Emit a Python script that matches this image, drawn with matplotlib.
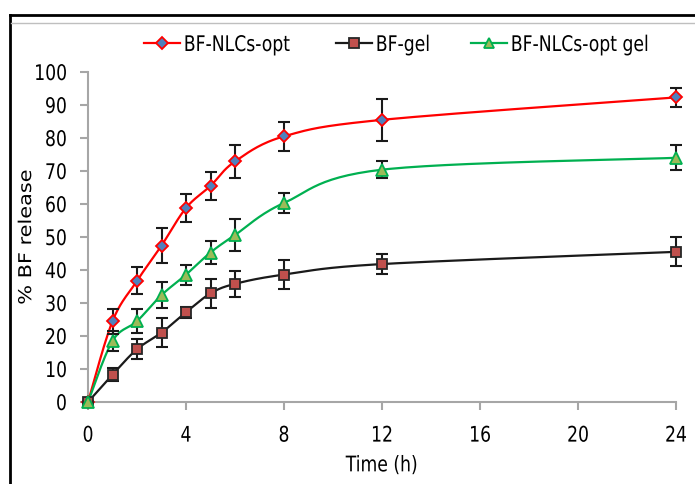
"""
plot.py - cumulative BF release from NLC formulations (Excel-style chart)
"""

import matplotlib
matplotlib.use('Agg')
import matplotlib.pyplot as plt
from matplotlib.lines import Line2D
from matplotlib.patheffects import AbstractPathEffect
from matplotlib.transforms import Affine2D
import numpy as np


# ── Data ─────────────────────────────────────────────────────────────────────
TIME = [0, 1, 2, 3, 4, 5, 6, 8, 12, 24]

NLC_OPT     = [0, 24.5, 36.7, 47.4, 58.8, 65.5, 72.9, 80.5, 85.5, 92.3]
NLC_OPT_ERR = [0, 3.8, 4.1, 5.3, 4.2, 4.2, 5.1, 4.3, 6.3, 3.0]

GEL     = [0, 8.3, 16.0, 21.0, 27.2, 32.9, 35.8, 38.6, 41.8, 45.5]
GEL_ERR = [0, 2.0, 3.0, 4.4, 1.7, 4.5, 4.0, 4.3, 3.0, 4.4]

NLC_GEL     = [0, 18.5, 24.5, 32.4, 38.6, 45.3, 50.6, 60.3, 70.4, 74.0]
NLC_GEL_ERR = [0, 3.0, 3.6, 3.9, 3.0, 3.6, 4.8, 3.1, 2.5, 3.8]

LABELS = ['BF-NLCs-opt', 'BF-gel', 'BF-NLCs-opt gel']

X_TICKS = [0, 4, 8, 12, 16, 20, 24]
Y_TICKS = list(range(0, 101, 10))

# ── Style ────────────────────────────────────────────────────────────────────
FIG_W, FIG_H = 695, 484
AXIS_GREY = '#A6A6A6'
SQUEEZE = 0.8                        # source picture is stretched vertically
LEGEND_X = [144, 336, 471]           # pixel x where each legend entry starts
FS = 15.5

STYLES = [
    dict(color='#FF0000', marker='D', mfc='#4F81BD', mec='#FF0000', ms=6.5),
    dict(color='#1A1A1A', marker='s', mfc='#C0504D', mec='#262626', ms=7),
    dict(color='#00B050', marker='^', mfc='#9BBB59', mec='#00B050', ms=8),
]


class Squeeze(AbstractPathEffect):
    """Draw text narrower in x, keeping the left / centre / right edge put."""

    def __init__(self, factor, anchor='center'):
        super().__init__()
        self.factor = factor
        self.anchor = anchor

    def draw_path(self, renderer, gc, tpath, affine, rgbFace=None):
        ext = tpath.get_extents(affine)
        x0 = {'left': ext.x0, 'center': 0.5 * (ext.x0 + ext.x1), 'right': ext.x1}[self.anchor]
        sq = Affine2D().translate(-x0, 0).scale(self.factor, 1).translate(x0, 0)
        renderer.draw_path(gc, tpath, affine + sq, rgbFace)


def smooth(x, y, sx, sy, n=30):
    """Excel-like smoothed line (Catmull-Rom Bezier) computed in pixel space."""
    px = np.asarray(x, float) * sx
    py = np.asarray(y, float) * sy
    P = np.column_stack([px, py])
    P = np.vstack([P[0], P, P[-1]])
    out = []
    t = np.linspace(0, 1, n)[:, None]
    for i in range(1, len(P) - 2):
        p0, p1, p2, p3 = P[i - 1], P[i], P[i + 1], P[i + 2]
        c1 = p1 + (p2 - p0) / 6
        c2 = p2 - (p3 - p1) / 6
        seg = ((1 - t) ** 3 * p1 + 3 * (1 - t) ** 2 * t * c1
               + 3 * (1 - t) * t ** 2 * c2 + t ** 3 * p2)
        out.append(seg if i == 1 else seg[1:])
    seg = np.vstack(out)
    return seg[:, 0] / sx, seg[:, 1] / sy


def main():
    fig = plt.figure(figsize=(FIG_W / 100, FIG_H / 100), dpi=100)
    ax = fig.add_axes([88 / FIG_W, 1 - 402 / FIG_H, 588 / FIG_W, 330 / FIG_H])

    # pixels per data unit, for the smoothing
    sx = 588 / 24
    sy = 330 / 100

    series = [(NLC_OPT, NLC_OPT_ERR), (GEL, GEL_ERR), (NLC_GEL, NLC_GEL_ERR)]
    handles = []
    for (vals, err), st, lab in zip(series, STYLES, LABELS):
        xs, ys = smooth(TIME, vals, sx, sy)
        ax.plot(xs, ys, color=st['color'], lw=1.6, zorder=2, clip_on=False)
        ax.errorbar(TIME, vals, yerr=err, fmt='none', ecolor='#1A1A1A',
                    elinewidth=1.5, capsize=4, capthick=1.5, zorder=3, clip_on=False)
        ax.plot(TIME, vals, ls='none', marker=st['marker'], mfc=st['mfc'],
                mec=st['mec'], ms=st['ms'], mew=1.3, zorder=4, clip_on=False)
        handles.append(Line2D([], [], color=st['color'], lw=1.6, marker=st['marker'],
                              mfc=st['mfc'], mec=st['mec'], ms=st['ms'] - 0.5, mew=1.3))

    ax.set_xlim(0, 24)
    ax.set_ylim(0, 100)
    ax.set_xticks(X_TICKS)
    ax.set_yticks(Y_TICKS)
    ax.set_xticklabels([str(v) for v in X_TICKS], fontsize=FS)
    ax.set_yticklabels([str(v) for v in Y_TICKS], fontsize=FS)
    for lab in ax.get_xticklabels():
        lab.set_path_effects([Squeeze(SQUEEZE, 'center')])
    for lab in ax.get_yticklabels():
        lab.set_path_effects([Squeeze(SQUEEZE, 'right')])

    for side in ('top', 'right'):
        ax.spines[side].set_visible(False)
    for side in ('left', 'bottom'):
        ax.spines[side].set_color(AXIS_GREY)
        ax.spines[side].set_linewidth(1.5)
    ax.tick_params(axis='both', direction='out', length=6, width=1.5,
                   color=AXIS_GREY, labelcolor='black')
    ax.tick_params(axis='y', pad=9)
    ax.tick_params(axis='x', pad=11)
    ax.set_facecolor('none')

    ylab = ax.set_ylabel('% BF release', fontsize=15)
    ylab.set_path_effects([Squeeze(0.85, 'center')])
    ax.yaxis.set_label_coords(-0.088, 0.5)
    xlab = ax.set_xlabel('Time (h)', fontsize=FS, labelpad=7)
    xlab.set_path_effects([Squeeze(SQUEEZE, 'center')])

    # one legend per entry, so the squeezed labels sit where Excel put them
    for h, lab, px in zip(handles, LABELS, LEGEND_X):
        leg = fig.legend([h], [lab], loc='center left',
                         bbox_to_anchor=(px / FIG_W, 1 - 45 / FIG_H),
                         frameon=False, borderpad=0, borderaxespad=0,
                         handlelength=1.65, handletextpad=0.18, fontsize=FS)
        for txt in leg.get_texts():
            txt.set_path_effects([Squeeze(SQUEEZE, 'left')])

    # outer chart frame (image is cropped from a bigger Excel chart)
    fig.add_artist(Line2D([10 / FIG_W, 10 / FIG_W], [0, 1 - 15 / FIG_H],
                          transform=fig.transFigure, color='black', lw=2))
    fig.add_artist(Line2D([10 / FIG_W, 1], [1 - 15 / FIG_H, 1 - 15 / FIG_H],
                          transform=fig.transFigure, color='black', lw=2))
    fig.add_artist(Line2D([11 / FIG_W, 1], [1 - 23 / FIG_H, 1 - 23 / FIG_H],
                          transform=fig.transFigure, color='#BFBFBF', lw=1))

    fig.savefig('out.png', dpi=100)


if __name__ == '__main__':
    main()
